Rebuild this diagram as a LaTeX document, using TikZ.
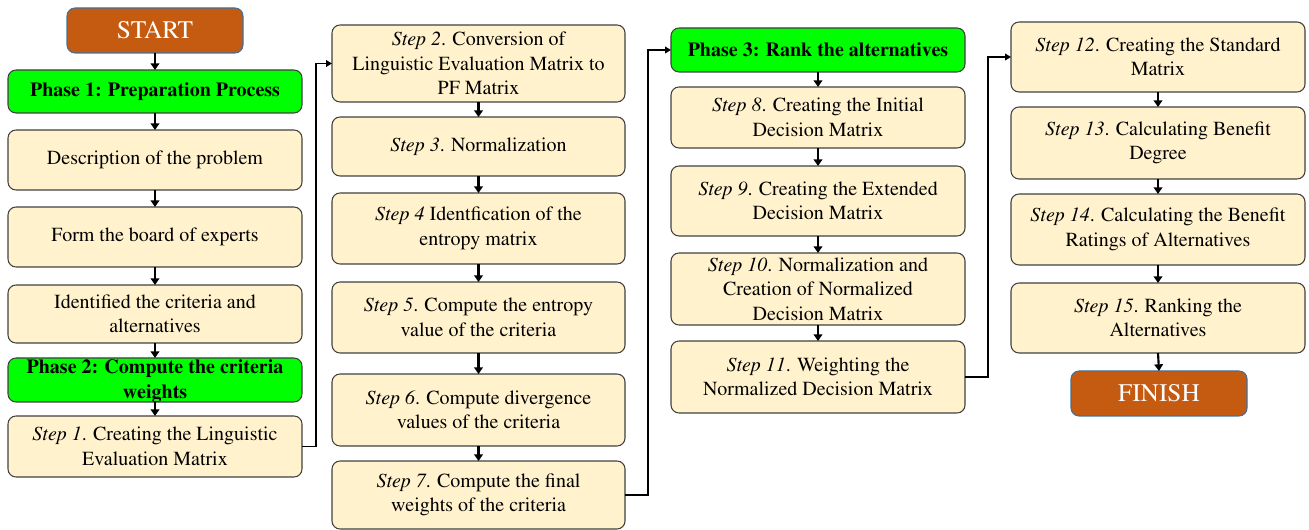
\documentclass[tikz,border=0pt]{standalone}
\usepackage[T1]{fontenc}
\usepackage{mathptmx}
\usetikzlibrary{arrows.meta}
\definecolor{termfill}{HTML}{C55A11}
\definecolor{termdraw}{HTML}{41719C}
\definecolor{phasefill}{HTML}{00FF00}
\definecolor{stepfill}{HTML}{FFF2CC}
\definecolor{stepdraw}{HTML}{404040}
\tikzset{
  sz/.style 2 args={minimum width=#1*0.75pt, minimum height=#2*0.75pt},
  basebox/.style={rectangle, rounded corners=6pt, inner sep=0pt, outer sep=0pt, align=center, line width=0.8pt},
  stepbox/.style={basebox, fill=stepfill, draw=stepdraw, font=\fontsize{15}{18.4}\selectfont},
  phasebox/.style={basebox, fill=phasefill, draw=black!75, font=\fontsize{15}{18.4}\selectfont\bfseries},
  termbox/.style={basebox, fill=termfill, draw=termdraw, text=white, font=\fontsize{19}{22}\selectfont},
  arr/.style={line width=1.6pt, -{Triangle[length=5pt,width=6.5pt]}},
  elbow/.style={line width=1.4pt, rounded corners=0pt, -{Triangle[length=4.5pt,width=5pt]}},
}
\begin{document}
\begin{tikzpicture}[x=0.75pt,y=-0.75pt]
\useasboundingbox (0,0) rectangle (1309,530);
% column 1
\node[termbox, sz={176}{45}] (start) at (155,30.5) {START};
\node[phasebox, sz={294}{43}] (p1) at (155,91.5) {Phase 1: Preparation Process};
\node[stepbox, sz={294}{60}] (desc) at (155,160) {Description of the problem};
\node[stepbox, sz={294}{60}] (form) at (155,237) {Form the board of experts};
\node[stepbox, sz={294}{58}] (ident) at (155,314) {Identified the criteria and\\alternatives};
\node[phasebox, sz={294}{44}] (p2) at (155,380) {};
\node[align=center, inner sep=0pt, font=\fontsize{15}{18.4}\selectfont\bfseries] (p2t) at (155,381) {Phase 2: Compute the criteria\\weights};
\node[stepbox, sz={294}{61}] (s1) at (155,446.5) {\textit{Step 1}. Creating the Linguistic\\Evaluation Matrix};
% column 2
\node[stepbox, sz={293}{77}] (s2) at (478.5,63.5) {\textit{Step 2}. Conversion of\\Linguistic Evaluation Matrix to\\PF Matrix};
\node[stepbox, sz={293}{59}] (s3) at (478.5,146.5) {\textit{Step 3}. Normalization};
\node[stepbox, sz={293}{71}] (s4) at (478.5,228.5) {\textit{Step 4} Identfication of the\\entropy matrix};
\node[stepbox, sz={293}{71}] (s5) at (478.5,317.5) {\textit{Step 5}. Compute the entropy\\value of the criteria};
\node[stepbox, sz={293}{72}] (s6) at (478.5,410) {\textit{Step 6}. Compute divergence\\values of the criteria};
\node[stepbox, sz={293}{68}] (s7) at (478.5,495) {\textit{Step 7}. Compute the final\\weights of the criteria};
% column 3
\node[phasebox, sz={294}{44}] (p3) at (818,50) {Phase 3: Rank the alternatives};
\node[stepbox, sz={294}{61}] (s8) at (818,117.5) {\textit{Step 8}. Creating the Initial\\Decision Matrix};
\node[stepbox, sz={294}{70}] (s9) at (818,201) {\textit{Step 9}. Creating the Extended\\Decision Matrix};
\node[stepbox, sz={294}{72}] (s10) at (818,289) {\textit{Step 10}. Normalization and\\Creation of Normalized\\Decision Matrix};
\node[stepbox, sz={294}{72}] (s11) at (818,377) {\textit{Step 11}. Weighting the\\Normalized Decision Matrix};
% column 4
\node[stepbox, sz={294}{70}] (s12) at (1158,57) {\textit{Step 12}. Creating the Standard\\Matrix};
\node[stepbox, sz={294}{72}] (s13) at (1158,143) {\textit{Step 13}. Calculating Benefit\\Degree};
\node[stepbox, sz={294}{71}] (s14) at (1158,229.5) {\textit{Step 14}. Calculating the Benefit\\Ratings of Alternatives};
\node[stepbox, sz={294}{70}] (s15) at (1158,318) {\textit{Step 15}. Ranking the\\Alternatives};
\node[termbox, sz={176}{45}] (fin) at (1159,393.5) {FINISH};
% vertical arrows
\foreach \a/\b in {start/p1, p1/desc, desc/form, form/ident, ident/p2, p2/s1,
                   s2/s3, s3/s4, s4/s5, s5/s6, s6/s7,
                   p3/s8, s8/s9, s9/s10, s10/s11,
                   s12/s13, s13/s14, s14/s15, s15/fin}
  \draw[arr] (\a.south) -- (\b.north);
% elbow connectors
\draw[elbow] (s1.east) -- ++(14,0) |- (s2.west);
\draw[elbow] (s7.east) -- ++(23,0) |- (p3.west);
\draw[elbow] (s11.east) -- ++(23,0) |- (s12.west);
\end{tikzpicture}
\end{document}
